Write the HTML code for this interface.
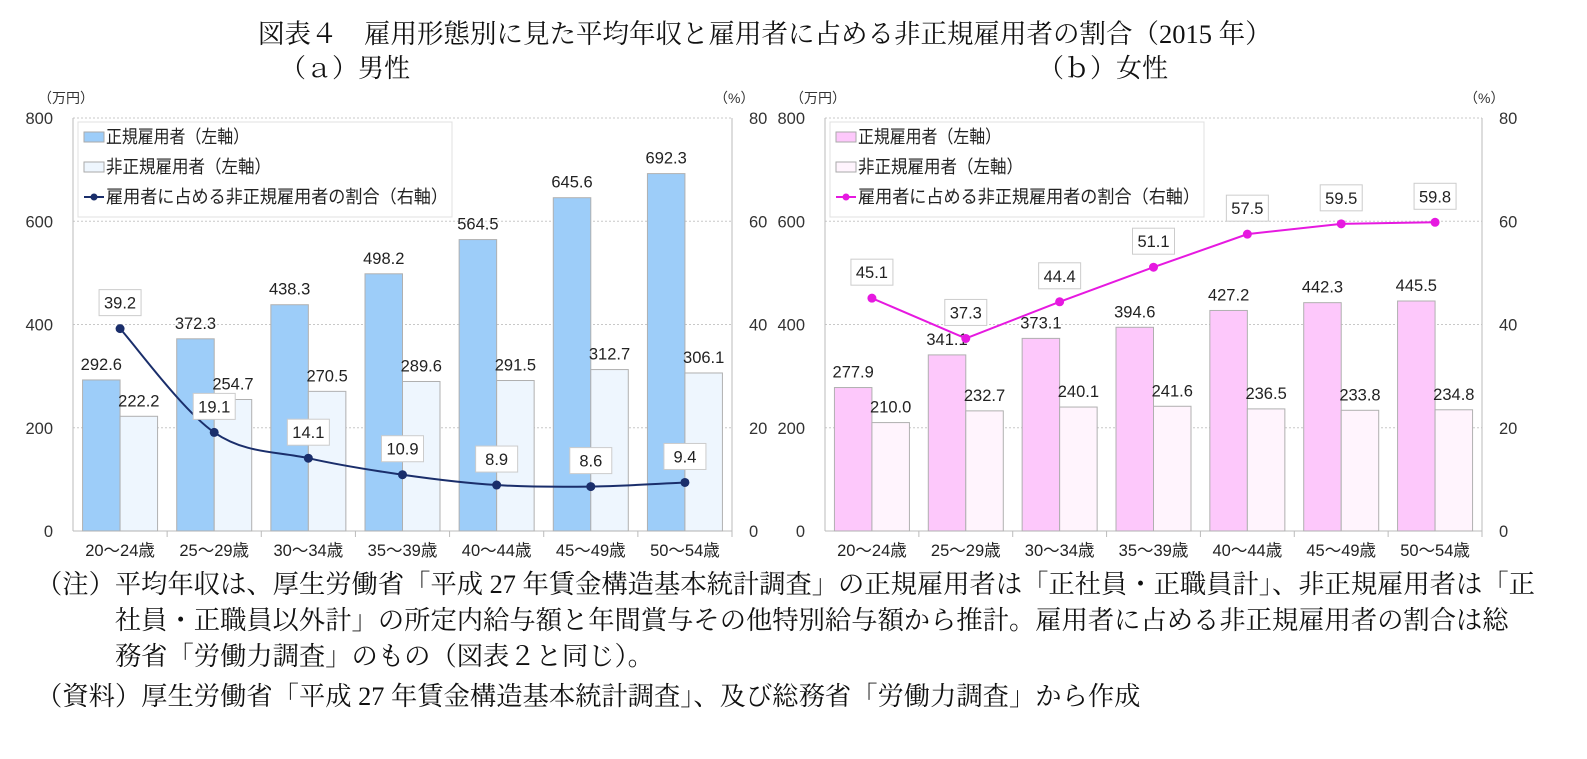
<!DOCTYPE html>
<html><head><meta charset="utf-8">
<style>
body{margin:0;width:1587px;height:759px;background:#fff;overflow:hidden;font-family:"Liberation Serif","Noto Serif CJK JP","Noto Serif CJK SC",serif;color:#111}
.t{position:absolute;white-space:nowrap}
svg{position:absolute;left:0;top:0}
</style></head><body>
<div class="t" style="left:258px;top:12px;font-size:26.5px">図表４　雇用形態別に見た平均年収と雇用者に占める非正規雇用者の割合（2015 年）</div>
<div class="t" style="left:280px;top:48px;font-size:26px">（ａ）男性</div>
<div class="t" style="left:1038px;top:48px;font-size:26px">（ｂ）女性</div>
<div class="t" style="left:36px;top:567px;font-size:26.3px;line-height:36px">（注）平均年収は、厚生労働省「平成 27 年賃金構造基本統計調査」の正規雇用者は「正社員・正職員計」、非正規雇用者は「正<br>　　　社員・正職員以外計」の所定内給与額と年間賞与その他特別給与額から推計。雇用者に占める非正規雇用者の割合は総<br>　　　務省「労働力調査」のもの（図表２と同じ）。</div>
<div class="t" style="left:36px;top:675px;font-size:26.3px">（資料）厚生労働省「平成 27 年賃金構造基本統計調査」、及び総務省「労働力調査」から作成</div>
<svg id="svg" width="1587" height="759" xmlns="http://www.w3.org/2000/svg" font-family="Liberation Sans, Noto Sans CJK JP, sans-serif"></svg>
<script>
const categories=["20～24歳","25～29歳","30～34歳","35～39歳","40～44歳","45～49歳","50～54歳"];
const maleRegular=[292.6,372.3,438.3,498.2,564.5,645.6,692.3];
const maleIrregular=[222.2,254.7,270.5,289.6,291.5,312.7,306.1];
const maleShare=[39.2,19.1,14.1,10.9,8.9,8.6,9.4];
const femaleRegular=[277.9,341.1,373.1,394.6,427.2,442.3,445.5];
const femaleIrregular=[210.0,232.7,240.1,241.6,236.5,233.8,234.8];
const femaleShare=[45.1,37.3,44.4,51.1,57.5,59.5,59.8];
const leftTicks=[0,200,400,600,800];
const rightTicks=[0,20,40,60,80];

const NS="http://www.w3.org/2000/svg";
const svg=document.getElementById('svg');
function mk(tag,attrs,parent){const e=document.createElementNS(NS,tag);for(const k in attrs)e.setAttribute(k,attrs[k]);(parent||svg).appendChild(e);return e;}

function chart(cfg){
  const x0=cfg.x0,x1=cfg.x1,yTop=118,yBot=531;
  const g=mk('g',{});
  
  
  const yL=v=>yBot-(v/800)*(yBot-yTop);
  const yR=v=>yBot-(v/80)*(yBot-yTop);
  const cw=(x1-x0)/categories.length;
  const cx=i=>x0+cw*(i+0.5);
  leftTicks.forEach((t,i)=>{
    const y=yL(t);
    if(t>0){const l=mk('line',{x1:x0,x2:x1,y1:y,y2:y,stroke:'#c8c8c8','stroke-dasharray':'2,2'},g);}
    const a=mk('text',{x:x0-20,y:y+6,'text-anchor':'end','font-size':16.5,fill:'#333'},g);a.textContent=t;
    
    const b=mk('text',{x:x1+17,y:yR(rightTicks[i])+6,'text-anchor':'start','font-size':16.5,fill:'#333'},g);b.textContent=rightTicks[i];
    
  });
  let u=mk('text',{x:x0-35,y:103,'font-size':14,fill:'#333'},g);u.textContent='（万円）';
  u=mk('text',{x:x1-18,y:103,'font-size':14,fill:'#333'},g);u.textContent='（%）';
  mk('line',{x1:x0,x2:x0,y1:yTop,y2:yBot,stroke:'#bbb'},g);
  mk('line',{x1:x1,x2:x1,y1:yTop,y2:yBot,stroke:'#bbb'},g);
  mk('line',{x1:x0,x2:x1,y1:yBot,y2:yBot,stroke:'#bbb'},g);
  const bw=37.5;
  categories.forEach((c,i)=>{
    mk('line',{x1:x0+cw*(i+1),x2:x0+cw*(i+1),y1:yBot,y2:yBot+6,stroke:'#bbb'},g);
    const lab=mk('text',{x:cx(i),y:yBot+25,'text-anchor':'middle','font-size':16.5,fill:'#222'},g);lab.textContent=c;
    
    const r=mk('rect',{x:cx(i)-bw,y:yL(cfg.reg[i]),width:bw,height:yBot-yL(cfg.reg[i]),fill:cfg.regFill,stroke:'#b0b0b0'},g);
    
    const r2=mk('rect',{x:cx(i),y:yL(cfg.irr[i]),width:bw,height:yBot-yL(cfg.irr[i]),fill:cfg.irrFill,stroke:'#b0b0b0'},g);
    
    let t=mk('text',{x:cx(i)-bw/2,y:yL(cfg.reg[i])-10,'text-anchor':'middle','font-size':16.5,fill:'#222'},g);t.textContent=cfg.reg[i].toFixed(1);
    
    t=mk('text',{x:cx(i)+bw/2,y:yL(cfg.irr[i])-10,'text-anchor':'middle','font-size':16.5,fill:'#222'},g);t.textContent=cfg.irr[i].toFixed(1);
    
  });
  const pts=cfg.share.map((v,i)=>[cx(i),yR(v)]);
  let d='M'+pts[0][0]+','+pts[0][1];
  for(let i=0;i<pts.length-1;i++){
    if(cfg.smooth){
      const p0=pts[Math.max(0,i-1)],p1=pts[i],p2=pts[i+1],p3=pts[Math.min(pts.length-1,i+2)];
      const c1=[p1[0]+(p2[0]-p0[0])/6,p1[1]+(p2[1]-p0[1])/6],c2=[p2[0]-(p3[0]-p1[0])/6,p2[1]-(p3[1]-p1[1])/6];
      d+=' C'+c1+' '+c2+' '+p2;
    } else d+=' L'+pts[i+1];
  }
  const ln=mk('path',{d:d,fill:'none',stroke:cfg.lineColor,'stroke-width':2},g);
  
  pts.forEach((p,i)=>{
    const c=mk('circle',{cx:p[0],cy:p[1],r:4.5,fill:cfg.lineColor},g);
    
    const bx=mk('rect',{x:p[0]-21,y:p[1]-39,width:42,height:26,fill:'#fff',stroke:'#ccc'},g);
    
    const t=mk('text',{x:p[0],y:p[1]-20,'text-anchor':'middle','font-size':16.5,fill:'#222'},g);t.textContent=cfg.share[i].toFixed(1);
    
  });
  const lg=mk('g',{},g);
  mk('rect',{x:x0+5,y:122,width:374,height:95,fill:'#fff',stroke:'#e0e0e0'},lg);
  const items=['正規雇用者（左軸）','非正規雇用者（左軸）','雇用者に占める非正規雇用者の割合（右軸）'];
  items.forEach((s,k)=>{
    const y=137+k*30;
    if(k<2){const sw=mk('rect',{x:x0+11,y:y-5,width:20,height:10,fill:k?cfg.irrFill:cfg.regFill,stroke:'#aaa'},lg);}
    else{mk('line',{x1:x0+11,x2:x0+31,y1:y,y2:y,stroke:cfg.lineColor,'stroke-width':2},lg);mk('circle',{cx:x0+21,cy:y,r:3.5,fill:cfg.lineColor},lg);}
    const t=mk('text',{x:x0+33,y:y+6,'font-size':18,fill:'#222','textLength':k==2?342:(k==0?143:165),lengthAdjust:'spacingAndGlyphs'},lg);t.textContent=s;
    
  });
}
chart({name:'male-chart',x0:73,x1:732,reg:maleRegular,irr:maleIrregular,share:maleShare,regFill:'#9dcdf9',irrFill:'#eef6fe',lineColor:'#1a2e6b',smooth:true});
chart({name:'female-chart',x0:825,x1:1482,reg:femaleRegular,irr:femaleIrregular,share:femaleShare,regFill:'#fdc8fb',irrFill:'#fff4fd',lineColor:'#e619e0',smooth:false});
</script>
</body></html>
